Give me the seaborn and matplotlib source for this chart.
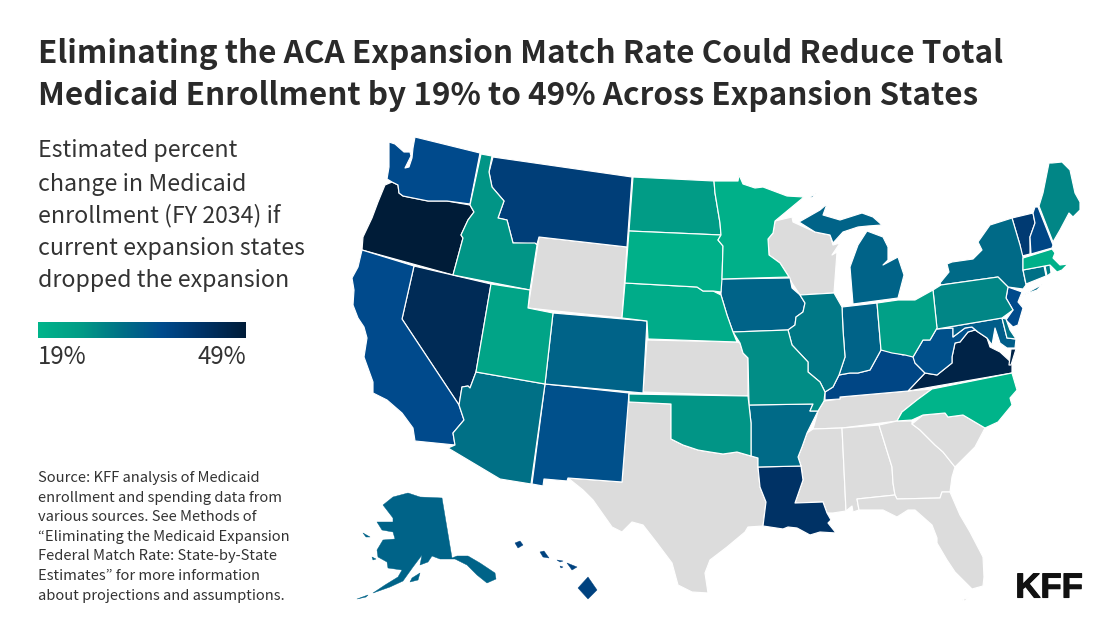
import matplotlib
matplotlib.use("Agg")
import matplotlib.pyplot as plt
import matplotlib.colors as mcolors
import matplotlib.patheffects as pe
import numpy as np
import pandas as pd
import seaborn as sns

# estimated percent change
states = ["OR","NV","VA","LA","VT","MT","WA","CA","NH","NM","KY","NJ","HI","WV","MD","IN","IA","MI","AK","CO",
          "NY","AZ","AR","IL","CT","RI","DE","PA","ME","MO","OK","ID","ND","OH","UT","NE","SD","MN","MA","NC"]
values = [49,45,47,43,41,40,37,37,38,36,38,37,39,36,34,33,33,33,33,33,
          32,31,32,30,31,29,31,28,28,27,26,26,25,24,23,21,20,20,20,19]
no_expansion = ["WY","WI","KS","TX","TN","MS","AL","GA","SC","FL"]
islands = ["AK", "HI"]

title_lines = ["Eliminating the ACA Expansion Match Rate Could Reduce Total",
               "Medicaid Enrollment by 19% to 49% Across Expansion States"]
subtitle_lines = ["Estimated percent", "change in Medicaid", "enrollment (FY 2034) if",
                  "current expansion states", "dropped the expansion"]
source_lines = ["Source: KFF analysis of Medicaid", "enrollment and spending data from",
                "various sources. See Methods of", "“Eliminating the Medicaid Expansion",
                "Federal Match Rate: State-by-State", "Estimates” for more information",
                "about projections and assumptions."]
scale_min, scale_max = 19, 49
scale_colors = ["#00b48a", "#019c86", "#007086", "#004a8c", "#003265", "#001c38"]

# state outlines, in pixels (each state can have several parts)
outlines = {
    "WA": [[(389,142),(395,144),(404,152),(410,152),(411,156),(405,168),(409,167),(412,158),(413,148),(415,137),(480,153),(470,204),(447,201),(428,201),(413,198),(403,196),(399,193),(398,185),(392,182),(387,179),(389,167)]],
    "OR": [[(392,182),(398,185),(399,193),(403,196),(413,198),(428,201),(447,201),(470,205),(474,212),(468,220),(461,235),(463,238),(453,275),(362,250),(363,237),(372,218),(378,202),(385,185)]],
    "ID": [[(481,154),(492,156),(489,172),(492,187),(504,201),(498,218),(507,220),(513,243),(535,243),(537,245),(530,290),(453,275),(463,238),(461,235),(468,220),(474,212),(470,205)]],
    "MT": [[(493,157),(632,177),(627,247),(539,237),(537,244),(513,243),(507,220),(498,218),(504,201),(492,187),(489,172)]],
    "WY": [[(539,237),(627,247),(622,318),(528,308)]],
    "ND": [[(633,177),(714,181),(715,193),(720,223),(721,235),(629,231)]],
    "SD": [[(629,231),(721,235),(718,240),(723,246),(722,279),(721,292),(713,291),(703,291),(697,287),(625,283)]],
    "MN": [[(714,181),(738,181),(739,175),(743,184),(755,188),(763,187),(787,196),(804,197),(775,221),(773,233),(768,239),(769,255),(780,263),(789,277),(722,279),(723,246),(718,240),(721,235),(720,223),(715,193)]],
    "WI": [[(775,221),(792,217),(793,222),(815,232),(830,235),(833,245),(840,243),(832,255),(837,252),(834,293),(800,295),(792,283),(789,277),(780,263),(769,255),(768,239),(773,233)]],
    "MI": [[(799,222),(820,210),(827,204),(823,215),(840,220),(862,213),(873,217),(882,225),(868,226),(858,227),(843,232),(833,243),(830,235),(815,232)],
           [(867,231),(883,237),(888,247),(888,260),(883,265),(898,257),(904,275),(898,298),(853,304),(850,267),(858,245)],
           [(810,197),(817,193),(812,198)]],
    "IA": [[(721,279),(790,278),(792,288),(800,295),(805,303),(803,312),(796,317),(795,325),(788,330),(733,332),(727,315),(721,295)]],
    "NE": [[(625,283),(697,287),(703,291),(713,291),(721,295),(727,315),(733,332),(737,342),(648,339),(647,321),(622,318)]],
    "KS": [[(647,340),(737,342),(740,343),(743,353),(748,358),(748,396),(643,392)]],
    "MO": [[(733,332),(788,330),(792,345),(808,362),(808,372),(820,382),(825,392),(824,401),(818,411),(810,411),(813,404),(749,405),(748,358),(743,353),(740,343)]],
    "AR": [[(749,405),(813,404),(810,411),(818,411),(807,433),(802,447),(798,457),(801,466),(758,467),(758,458),(751,456),(751,423)]],
    "OK": [[(629,394),(748,396),(751,423),(751,456),(737,452),(723,454),(710,452),(698,450),(683,445),(671,439),(671,404),(629,402)]],
    "TX": [[(628,402),(671,404),(671,439),(683,445),(698,450),(710,452),(723,454),(737,452),(751,456),(758,458),(758,467),(760,487),(766,502),(763,526),(748,527),(745,532),(727,547),(710,560),(705,573),(708,593),(692,592),(678,585),(672,563),(657,543),(643,525),(632,522),(622,532),(612,527),(600,510),(593,500),(583,490),(568,478),(622,482)]],
    "NM": [[(545,384),(629,393),(622,482),(568,478),(567,481),(544,479),(543,486),(532,484)]],
    "AZ": [[(476,372),(545,384),(531,484),(500,479),(448,448),(455,445),(453,433),(464,420),(459,405),(462,387),(468,386),(470,388)]],
    "CO": [[(553,313),(647,321),(643,393),(545,384)]],
    "UT": [[(491,284),(530,290),(528,308),(553,313),(545,384),(476,372)]],
    "NV": [[(414,266),(491,284),(476,372),(470,388),(468,386),(462,387),(459,405),(402,319)]],
    "CA": [[(362,250),(414,266),(402,319),(459,405),(464,420),(453,433),(455,445),(415,441),(413,428),(402,413),(387,400),(373,393),(373,382),(364,357),(367,338),(364,327),(358,318),(353,305),(354,290),(352,278),(358,267)]],
    "IL": [[(800,295),(834,293),(842,307),(843,330),(845,357),(839,375),(833,387),(825,392),(820,382),(808,372),(808,362),(792,345),(788,330),(795,325),(796,317),(803,312),(805,303)]],
    "IN": [[(842,307),(877,303),(881,350),(870,370),(858,373),(850,373),(839,375),(845,357),(843,330)]],
    "OH": [[(877,303),(898,300),(915,300),(933,290),(937,328),(930,340),(923,340),(913,357),(905,355),(892,353),(881,350)]],
    "PA": [[(941,285),(998,277),(1008,287),(1006,298),(1013,310),(1002,318),(937,329),(933,290)]],
    "NY": [[(1012,218),(1020,245),(1023,257),(1023,270),(1026,285),(1023,289),(1008,287),(998,277),(941,285),(940,283),(949,272),(947,264),(952,262),(973,259),(982,250),(978,242),(990,225)],
           [(1023,295),(1043,284),(1037,290)]],
    "NJ": [[(1008,287),(1022,292),(1018,302),(1023,308),(1018,325),(1013,327),(1006,320),(1013,310),(1006,298)]],
    "MD": [[(937,329),(1002,318),(1007,338),(1016,339),(1015,348),(1007,348),(1000,343),(995,328),(992,345),(987,338),(978,332),(972,327),(965,328),(953,337),(953,328)]],
    "DE": [[(1002,318),(1006,319),(1010,330),(1016,339),(1007,338)]],
    "WV": [[(953,328),(953,337),(965,328),(972,327),(975,330),(968,332),(960,342),(955,343),(952,357),(952,363),(937,375),(925,373),(915,363),(913,357),(923,340),(930,340),(937,328)]],
    "VA": [[(908,391),(925,373),(937,375),(952,363),(952,357),(955,343),(960,342),(968,332),(975,330),(978,332),(987,338),(990,347),(1000,352),(1012,363),(1012,373)],
           [(1011,349),(1016,349),(1011,365),(1009,365)]],
    "KY": [[(825,400),(825,392),(833,387),(839,375),(850,373),(858,373),(870,370),(881,350),(887,350),(903,355),(913,353),(915,363),(925,373),(908,391),(840,397),(840,399)]],
    "TN": [[(813,429),(818,411),(824,401),(840,399),(840,397),(908,391),(932,389),(917,400),(902,412),(897,421),(842,428)]],
    "NC": [[(932,389),(1012,373),(1017,390),(1010,398),(1012,405),(998,422),(985,428),(963,415),(948,417),(945,413),(923,415),(912,420),(897,421),(902,412),(917,400)]],
    "SC": [[(912,424),(923,415),(945,413),(948,417),(963,415),(985,428),(975,447),(955,467),(943,452),(935,445),(920,430)]],
    "GA": [[(879,425),(897,421),(912,421),(912,424),(920,430),(935,445),(943,452),(955,467),(952,477),(950,492),(942,492),(940,498),(897,499),(895,495),(893,483),(892,467)]],
    "AL": [[(842,428),(879,425),(892,467),(893,483),(895,495),(857,499),(859,510),(853,512),(852,506),(846,511)]],
    "MS": [[(813,429),(842,428),(846,511),(833,513),(827,513),(823,502),(795,503),(803,480),(801,466),(798,457),(802,447),(807,433)]],
    "LA": [[(758,467),(801,466),(803,480),(795,503),(823,502),(827,513),(831,520),(828,523),(836,533),(820,532),(810,535),(797,528),(788,527),(783,529),(763,526),(766,502),(760,487)]],
    "FL": [[(857,499),(895,495),(897,499),(940,498),(942,492),(950,492),(960,515),(970,532),(983,557),(984,577),(983,586),(972,589),(955,572),(947,560),(937,543),(937,538),(932,525),(915,510),(908,510),(897,517),(883,510),(859,510)],
           [(962,600),(969,597),(965,601)]],
    "MA": [[(1023,258),(1052,249),(1055,253),(1053,258),(1060,265),(1068,264),(1062,270),(1057,272),(1050,265),(1023,270)]],
    "CT": [[(1023,270),(1044,266),(1046,276),(1026,284)]],
    "RI": [[(1045,266),(1050,265),(1051,273),(1047,276)]],
    "VT": [[(1012,218),(1033,213),(1035,223),(1030,237),(1030,254),(1022,256),(1020,245)]],
    "NH": [[(1035,207),(1038,207),(1053,245),(1052,248),(1031,254),(1030,237),(1035,223),(1033,213)]],
    "ME": [[(1039,206),(1043,193),(1049,163),(1052,163),(1062,162),(1070,170),(1075,193),(1080,202),(1080,210),(1073,217),(1069,213),(1060,230),(1053,242)]],
    "AK": [[(442,498),(452,558),(457,556),(468,556),(480,563),(495,573),(496,579),(487,583),(477,575),(467,565),(455,559),(440,559),(432,556),(428,562),(420,565),(422,555),(413,567),(403,581),(390,587),(373,593),(385,585),(398,577),(402,570),(388,568),(387,562),(378,557),(377,550),(383,540),(395,539),(393,532),(382,530),(377,522),(393,522),(393,518),(383,505),(393,497),(408,493),(420,497)],
           [(357,599),(368,595),(366,597)],
           [(412,578),(420,573),(418,580),(410,582)],
           [(363,533),(370,537),(366,537)],
           [(372,557),(376,559),(373,560)]],
    "HI": [[(588,577),(597,590),(588,599),(578,588)],
           [(567,563),(577,567),(572,570)],
           [(540,552),(544,551),(549,558),(543,557)],
           [(515,543),(520,541),(523,545),(518,548)],
           [(557,560),(563,561),(560,562)],
           [(560,566),(563,567),(561,568)]],
}

df = pd.DataFrame({"state": states, "value": values})

sns.set_theme(style="white")
plt.rcParams["font.family"] = ["Noto Sans CJK KR", "DejaVu Sans"]

cmap = sns.blend_palette(scale_colors, as_cmap=True)
norm = mcolors.Normalize(scale_min, scale_max)

fig = plt.figure(figsize=(11.2, 6.3), dpi=100)
ax = fig.add_axes([0, 0, 1, 1])
ax.set_xlim(0, 1120)
ax.set_ylim(630, 0)
ax.axis("off")

for st in no_expansion:
    for part in outlines[st]:
        ax.fill(*zip(*part), facecolor="#dcdcdc", edgecolor="white", linewidth=0.85, joinstyle="round")
for row in df.itertuples():
    col = cmap(norm(row.value))
    # AK and HI touch nothing, a white edge would only eat the small islands
    edge = col if row.state in islands else "white"
    lw = 0.3 if row.state in islands else 0.85
    for part in outlines[row.state]:
        ax.fill(*zip(*part), facecolor=col, edgecolor=edge, linewidth=lw, joinstyle="round")

# title, subtitle, source
for i, line in enumerate(title_lines):
    ax.text(38, 54 + i * 42, line, fontsize=22.7, fontweight="bold", color="#2a2a2a", va="center")
for y, line in zip([150, 184, 216, 249, 281], subtitle_lines):
    ax.text(38, y, line, fontsize=16.7, color="#333333", va="center")
for i, line in enumerate(source_lines):
    ax.text(38, 478 + i * 19.6, line, fontsize=10.6, color="#333333", va="center")

# colour scale
cax = fig.add_axes([38 / 1120, 1 - 338 / 630, 208 / 1120, 16 / 630])
sns.heatmap(np.linspace(scale_min, scale_max, 256).reshape(1, -1), ax=cax, cmap=cmap, norm=norm,
            cbar=False, xticklabels=False, yticklabels=False)
ax.text(38, 357, f"{scale_min}%", fontsize=17.3, color="#333333", va="center")
ax.text(246, 357, f"{scale_max}%", fontsize=17.3, color="#333333", va="center", ha="right")

ax.text(1083, 588, "KFF", fontsize=25, fontweight="bold", color="#111111", va="center", ha="right",
        family=["Liberation Sans", "DejaVu Sans"],
        path_effects=[pe.withStroke(linewidth=0.8, foreground="#111111")])

fig.savefig("out.png", dpi=100)
